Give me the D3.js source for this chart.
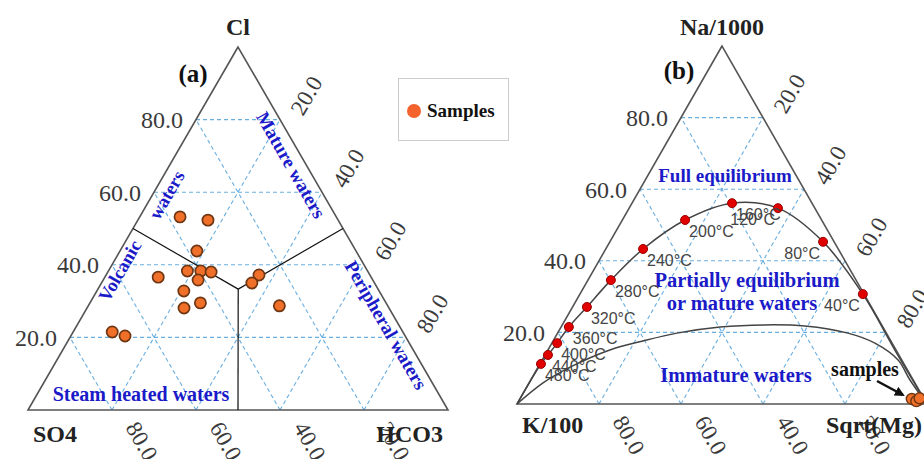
<!DOCTYPE html>
<html><head><meta charset="utf-8">
<script src="https://cdn.jsdelivr.net/npm/d3@7"></script>
<style>body{margin:0;background:#fff} svg{display:block}</style>
</head><body>
<svg id="chart" width="924" height="459"></svg>
<script>
// ---------- data ----------
const ticks = [20, 40, 60, 80];
const tickLabels = ["20.0", "40.0", "60.0", "80.0"];
const titlesA = ["Cl", "SO4", "HCO3"];
const titlesB = ["Na/1000", "K/100", "Sqrt(Mg)"];
const panelLabels = ["(a)", "(b)"];
const legendLabel = "Samples";

// (a) Cl - SO4 - HCO3 samples (%)
const sampleCl   = [53.2, 52.3, 43.8, 38.3, 38.3, 38.0, 36.6, 35.8, 32.8, 29.5, 28.1, 37.2, 35.0, 28.7, 21.5, 20.4];
const sampleSO4  = [37.2, 31.0, 37.9, 42.9, 39.7, 37.4, 50.7, 41.6, 46.5, 44.2, 48.8, 26.4, 29.2, 25.8, 69.2, 66.7];
const sampleHCO3 = [ 9.6, 16.7, 18.3, 18.8, 22.0, 24.6, 12.7, 22.6, 20.7, 26.3, 23.1, 36.4, 35.8, 45.5,  9.3, 12.9];

// (a) field boundaries: centre point and edge midpoints [Cl, SO4, HCO3]
const boundaryCentre = [33.3, 33.3, 33.4];
const boundaryEnds = [[50, 50, 0], [50, 0, 50], [0, 50, 50]];
const regionNamesA = ["Mature waters", "Volcanic", "waters", "Peripheral waters", "Steam heated waters"];

// (b) Na/1000 - K/100 - Sqrt(Mg): full equilibrium curve
const eqTemps = [480, 440, 400, 360, 320, 280, 240, 200, 160, 120, 80, 40];
const eqNa = [0, 11.2, 13.7, 17.0, 21.5, 27.1, 34.6, 43.3, 51.4, 56.1, 54.7, 45.3, 30.7, 15.0, 0];
const eqK  = [100, 88.6, 85.6, 81.7, 76.6, 69.4, 59.8, 47.6, 33.3, 19.5, 9.0, 2.7, 0.3, 0.3, 0];
const eqMg = [0, 0.25, 0.7, 1.3, 1.9, 3.5, 5.6, 9.1, 15.3, 24.4, 36.3, 52.0, 69.0, 84.7, 100];
// (b) immature waters line
const imNa = [0, 5.9, 10.3, 15.1, 17.6, 19.8, 21.5, 22.1, 21.8, 19.8, 17.0, 12.3, 6.7, 0];
const imK  = [100, 90.7, 81.9, 69.8, 60.5, 51.1, 39.7, 28.5, 18.9, 9.4, 4.2, 0.9, 0.8, 0];
const imMg = [0, 3.4, 7.8, 15.1, 21.9, 29.1, 38.8, 49.4, 59.3, 70.8, 78.8, 86.8, 92.5, 100];
// (b) samples
const sbNa = [1.4, 1.1, 0.8, 1.6];
const sbK  = [3.0, 1.6, 2.2, 1.0];
const sbMg = [95.6, 97.3, 97.0, 97.4];
const regionNamesB = ["Full equilibrium", "Partially equilibrium", "or mature waters", "Immature waters"];

// ---------- drawing ----------
const svg = d3.select("#chart");
const SERIF = "'Liberation Serif','Times New Roman',serif";
const SANS = "'Liberation Sans',Arial,sans-serif";
const BLUE = "#1a1ac8";
const ORANGE = "#f0702a";

function makeTri(left, right, apexY, bottomY) {
  const x = d3.scaleLinear().domain([0, 100]).range([left, right]);
  const y = d3.scaleLinear().domain([0, 100]).range([bottomY, apexY]);
  return {
    x, y,
    proj: (a, b, c) => { const s = a + b + c; return [x((c + a / 2) / s * 100), y(a / s * 100)]; }
  };
}
const triA = makeTri(28, 448, 47, 410);
const triB = makeTri(517, 927, 46, 404);
const line = d3.line();

function drawTernary(tri, titles, bottomBase) {
  const g = svg.append("g");
  ticks.forEach(v => {
    const segs = [
      [[v, 100 - v, 0], [v, 0, 100 - v]],
      [[0, v, 100 - v], [100 - v, v, 0]],
      [[0, 100 - v, v], [100 - v, 0, v]]
    ];
    segs.forEach(s => g.append("path")
      .attr("d", line(s.map(p => tri.proj(...p))))
      .attr("fill", "none").attr("stroke", "#6aaee0")
      .attr("stroke-width", 1.1).attr("stroke-dasharray", "4,3"));
  });
  g.append("path")
    .attr("d", line([tri.proj(100, 0, 0), tri.proj(0, 100, 0), tri.proj(0, 0, 100)]) + "Z")
    .attr("fill", "none").attr("stroke", "#555").attr("stroke-width", 1.6);

  ticks.forEach((v, i) => {
    const [lx, ly] = tri.proj(v, 100 - v, 0);
    g.append("text").attr("x", lx - 13).attr("y", ly).attr("dy", "0.35em")
      .attr("text-anchor", "end").attr("font-family", SERIF).attr("font-size", 24)
      .attr("fill", "#3a3a3a").text(tickLabels[i]);
    const [bx, by] = tri.proj(0, v, 100 - v);
    g.append("text").attr("transform", `translate(${bx + 13},${by + 17.6}) rotate(60)`)
      .attr("font-family", SERIF).attr("font-size", 23).attr("fill", "#3a3a3a").text(tickLabels[i]);
    const [cx, cy] = tri.proj(100 - v, 0, v);
    g.append("text").attr("transform", `translate(${cx + 23},${cy - 2.6}) rotate(-60)`)
      .attr("font-family", SERIF).attr("font-size", 23).attr("fill", "#3a3a3a").text(tickLabels[i]);
  });

  const top = tri.proj(100, 0, 0), bl = tri.proj(0, 100, 0), br = tri.proj(0, 0, 100);
  const tt = g.append("g").attr("font-family", SERIF).attr("font-weight", "bold")
    .attr("font-size", 24).attr("fill", "#222");
  tt.append("text").attr("x", top[0]).attr("y", 35).attr("text-anchor", "middle").text(titles[0]);
  tt.append("text").attr("x", bl[0] + 5).attr("y", bottomBase).attr("text-anchor", "start").text(titles[1]);
  tt.append("text").attr("x", br[0] - 5).attr("y", bottomBase).attr("text-anchor", "end").text(titles[2]);
  return g;
}

// ----- panel (a) -----
const gA = drawTernary(triA, titlesA, 442);
const cA = triA.proj(...boundaryCentre);
boundaryEnds.forEach(e => gA.append("path")
  .attr("d", line([cA, triA.proj(...e)]))
  .attr("stroke", "#111").attr("stroke-width", 1.2).attr("fill", "none"));

function regionText(g, x, y, rot, txt, size) {
  g.append("text").attr("transform", `translate(${x},${y}) rotate(${rot})`)
    .attr("text-anchor", "middle").attr("dominant-baseline", "central")
    .attr("font-family", SERIF).attr("font-weight", "bold").attr("font-size", size || 19)
    .attr("fill", BLUE).text(txt);
}
regionText(gA, 291, 165, 60, regionNamesA[0]);
regionText(gA, 120, 271, -60, regionNamesA[1], 18.5);
regionText(gA, 167, 195, -60, regionNamesA[2], 18.5);
regionText(gA, 386, 325, 60, regionNamesA[3]);
regionText(gA, 141, 394, 0, regionNamesA[4], 20);

gA.selectAll("circle.s").data(sampleCl).join("circle").attr("class", "s")
  .attr("cx", (d, i) => triA.proj(d, sampleSO4[i], sampleHCO3[i])[0])
  .attr("cy", (d, i) => triA.proj(d, sampleSO4[i], sampleHCO3[i])[1])
  .attr("r", 5.6).attr("fill", ORANGE).attr("stroke", "#6e3612").attr("stroke-width", 1.7);

svg.append("text").attr("x", 193).attr("y", 82).attr("text-anchor", "middle")
  .attr("font-family", SERIF).attr("font-weight", "bold").attr("font-size", 25)
  .attr("fill", "#111").text(panelLabels[0]);

// legend
const lg = svg.append("g");
lg.append("rect").attr("x", 398.5).attr("y", 78.5).attr("width", 110).attr("height", 62)
  .attr("fill", "#fff").attr("stroke", "#ccc").attr("stroke-width", 1);
lg.append("circle").attr("cx", 414).attr("cy", 111).attr("r", 7).attr("fill", "#f4622e");
lg.append("text").attr("x", 427).attr("y", 117).attr("font-family", SERIF)
  .attr("font-weight", "bold").attr("font-size", 19).attr("fill", "#111").text(legendLabel);

// ----- panel (b) -----
const gB = drawTernary(triB, titlesB, 433);
const curve = d3.line().curve(d3.curveCatmullRom.alpha(0.5));
gB.append("path").attr("d", curve(eqNa.map((d, i) => triB.proj(d, eqK[i], eqMg[i]))))
  .attr("fill", "none").attr("stroke", "#444").attr("stroke-width", 1.5);
gB.append("path").attr("d", curve(imNa.map((d, i) => triB.proj(d, imK[i], imMg[i]))))
  .attr("fill", "none").attr("stroke", "#444").attr("stroke-width", 1.5);

regionText(gB, 725, 175, 0, regionNamesB[0]);
regionText(gB, 747, 280, 0, regionNamesB[1], 20.5);
regionText(gB, 742, 303, 0, regionNamesB[2], 20.5);
regionText(gB, 736, 375, 0, regionNamesB[3], 20.5);

// temperature dots (interior points of the curve)
const dots = eqTemps.map((t, i) => ({ t, p: triB.proj(eqNa[i + 1], eqK[i + 1], eqMg[i + 1]) }));
gB.selectAll("circle.t").data(dots).join("circle").attr("class", "t")
  .attr("cx", d => d.p[0]).attr("cy", d => d.p[1]).attr("r", 4.5)
  .attr("fill", "#e00000").attr("stroke", "#9a0000").attr("stroke-width", 1);
gB.selectAll("text.t").data(dots).join("text").attr("class", "t")
  .attr("x", d => d.t >= 160 ? d.p[0] + 4 : d.p[0] - 3)
  .attr("y", d => d.p[1] + 17)
  .attr("text-anchor", d => d.t >= 160 ? "start" : "end")
  .attr("font-family", SANS).attr("font-size", 16).attr("fill", "#444")
  .text(d => d.t + "°C");

// samples (b)
gB.selectAll("circle.s").data(sbNa).join("circle").attr("class", "s")
  .attr("cx", (d, i) => triB.proj(d, sbK[i], sbMg[i])[0])
  .attr("cy", (d, i) => triB.proj(d, sbK[i], sbMg[i])[1])
  .attr("r", 5.5).attr("fill", ORANGE).attr("stroke", "#6e3612").attr("stroke-width", 1.4);

// arrow annotation
const defs = svg.append("defs");
defs.append("marker").attr("id", "ah").attr("viewBox", "0 0 10 10").attr("refX", 8).attr("refY", 5)
  .attr("markerWidth", 4).attr("markerHeight", 4).attr("orient", "auto")
  .append("path").attr("d", "M0,0L10,5L0,10Z").attr("fill", "#111");
gB.append("path").attr("d", line([[877, 381], [903, 395]]))
  .attr("stroke", "#111").attr("stroke-width", 2.5).attr("marker-end", "url(#ah)");
gB.append("text").attr("x", 865).attr("y", 376).attr("text-anchor", "middle")
  .attr("font-family", SERIF).attr("font-weight", "bold").attr("font-size", 20)
  .attr("fill", "#111").text("samples");

svg.append("text").attr("x", 679).attr("y", 79).attr("text-anchor", "middle")
  .attr("font-family", SERIF).attr("font-weight", "bold").attr("font-size", 25)
  .attr("fill", "#111").text(panelLabels[1]);
</script>
</body></html>
